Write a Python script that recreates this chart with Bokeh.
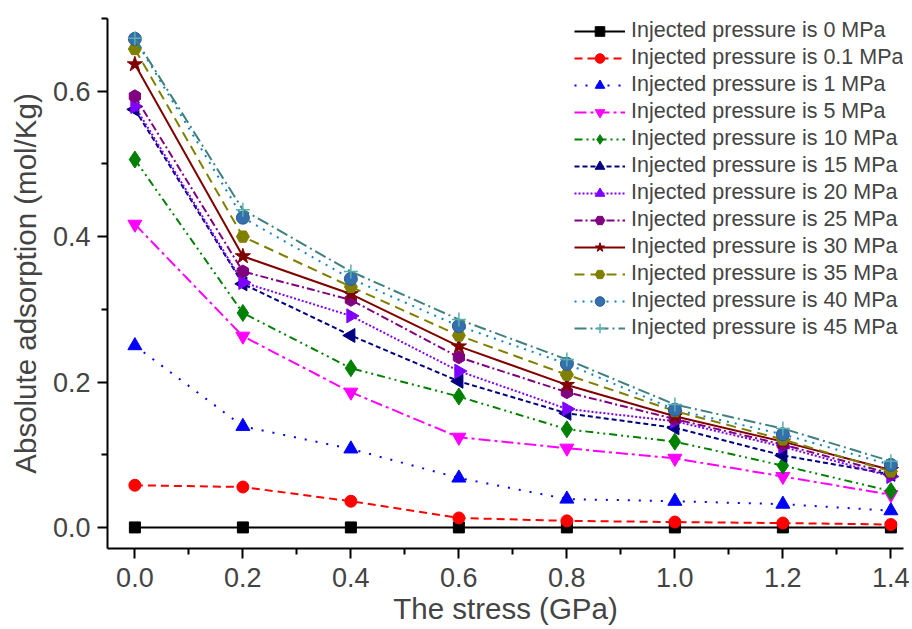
from bokeh.plotting import figure
from bokeh.models import FixedTicker, Range1d, Legend, LegendItem, NumeralTickFormatter
from bokeh.embed import file_html
from bokeh.resources import INLINE

# ---- data ----
stress = [0.0, 0.2, 0.4, 0.6, 0.8, 1.0, 1.2, 1.4]
p_0 = [0.0, 0.0, 0.0, 0.0, 0.0, 0.0, 0.0, 0.0]
p_01 = [0.058, 0.0556, 0.036, 0.013, 0.009, 0.0074, 0.006, 0.004]
p_1 = [0.250, 0.139, 0.108, 0.068, 0.039, 0.036, 0.032, 0.023]
p_5 = [0.417, 0.263, 0.186, 0.124, 0.109, 0.095, 0.070, 0.045]
p_10 = [0.506, 0.295, 0.219, 0.180, 0.135, 0.118, 0.085, 0.050]
p_15 = [0.575, 0.335, 0.264, 0.201, 0.157, 0.137, 0.099, 0.073]
p_20 = [0.579, 0.337, 0.291, 0.215, 0.163, 0.146, 0.111, 0.070]
p_25 = [0.593, 0.352, 0.313, 0.234, 0.186, 0.149, 0.114, 0.074]
p_30 = [0.637, 0.373, 0.321, 0.249, 0.196, 0.153, 0.118, 0.079]
p_35 = [0.658, 0.400, 0.331, 0.264, 0.210, 0.160, 0.121, 0.077]
p_40 = [0.672, 0.426, 0.342, 0.277, 0.225, 0.162, 0.128, 0.086]
p_45 = [0.673, 0.437, 0.352, 0.286, 0.231, 0.169, 0.136, 0.091]

labels = ["Injected pressure is 0 MPa", "Injected pressure is 0.1 MPa",
          "Injected pressure is 1 MPa", "Injected pressure is 5 MPa",
          "Injected pressure is 10 MPa", "Injected pressure is 15 MPa",
          "Injected pressure is 20 MPa", "Injected pressure is 25 MPa",
          "Injected pressure is 30 MPa", "Injected pressure is 35 MPa",
          "Injected pressure is 40 MPa", "Injected pressure is 45 MPa"]
values = [p_0, p_01, p_1, p_5, p_10, p_15, p_20, p_25, p_30, p_35, p_40, p_45]

x_ticks = [0.0, 0.2, 0.4, 0.6, 0.8, 1.0, 1.2, 1.4]
x_minor = [0.1, 0.3, 0.5, 0.7, 0.9, 1.1, 1.3]
y_ticks = [0.0, 0.2, 0.4, 0.6]
y_minor = [0.1, 0.3, 0.5, 0.7]

# ---- styles: (line color, dash, marker, size, fill, marker line color, angle) ----
styles = [
    ("#000000", "solid", "square", 11, "#000000", "#000000", 0),
    ("#FF0000", "8 5", "circle", 12, "#FF0000", "#FF0000", 0),
    ("#0000FF", "2 9", "triangle", 14, "#0000FF", "#0000FF", 0),
    ("#FF00FF", "12 4 3 4", "inverted_triangle", 14, "#FF00FF", "#FF00FF", 0),
    ("#008000", "8 4 2 4 2 4", "diamond", 17, "#008000", "#008000", 0),
    ("#000080", "5 3", "triangle", 14, "#000080", "#000080", 1.5708),
    ("#8000FF", "2 2", "triangle", 14, "#8000FF", "#8000FF", -1.5708),
    ("#800080", "8 3 2 3", "hex", 13, "#800080", "#800080", 1.5708),
    ("#800000", "solid", "star", 16, "#800000", "#800000", 0),
    ("#808000", "10 6", "hex", 13, "#808000", "#808000", 0),
    ("#0A84C8", "2 6", "circle", 13, "#3470AE", "#2A5A90", 0),
    ("#408080", "12 4 2 4", "cross", 14, "#5AAFAF", "#5AAFAF", 0),
]

FONT = "Liberation Sans"

p = figure(width=912, height=629, output_backend="svg", toolbar_location=None,
           x_range=Range1d(-0.0507, 1.4234), y_range=Range1d(-0.029, 0.7),
           min_border_left=107, min_border_right=9, min_border_top=18,
           min_border_bottom=81)
p.outline_line_color = None
p.xgrid.visible = False
p.ygrid.visible = False
p.background_fill_color = "white"
p.border_fill_color = "white"

items = []
for lab, vals, st in zip(labels, values, styles):
    color, dash, marker, size, fill, mline, ang = st
    r1 = p.line(stress, vals, line_color=color, line_width=2, line_dash=dash)
    r2 = p.scatter(stress, vals, marker=marker, size=size, angle=ang,
                   fill_color=fill, line_color=mline,
                   line_width=(1.5 if marker == "cross" else 1))
    items.append(LegendItem(label=lab, renderers=[r1, r2]))

legend = Legend(items=items, location=(467, 208), border_line_color=None,
                background_fill_alpha=0, padding=0, margin=0, spacing=2,
                glyph_width=51, glyph_height=24, label_height=24,
                label_standoff=6, label_text_font=FONT,
                label_text_font_size="21.5px")
p.add_layout(legend, "center")

for ax in (p.xaxis[0], p.yaxis[0]):
    ax.axis_line_width = 2
    ax.major_tick_line_width = 2
    ax.minor_tick_line_width = 2
    ax.major_tick_in = 0
    ax.minor_tick_in = 0
    ax.major_tick_out = 10
    ax.minor_tick_out = 6
    ax.major_label_text_font = FONT
    ax.major_label_text_font_size = "27px"
    ax.axis_label_text_font = FONT
    ax.axis_label_text_font_size = "29.5px"
    ax.axis_label_text_font_style = "normal"
    ax.formatter = NumeralTickFormatter(format="0.0")

p.xaxis[0].ticker = FixedTicker(ticks=x_ticks, minor_ticks=x_minor)
p.yaxis[0].ticker = FixedTicker(ticks=y_ticks, minor_ticks=y_minor)
p.xaxis[0].axis_label = "The stress (GPa)"
p.yaxis[0].axis_label = "Absolute adsorption (mol/Kg)"
p.xaxis[0].major_label_standoff = 9
p.xaxis[0].axis_label_standoff = 2
p.yaxis[0].major_label_standoff = 7
p.yaxis[0].axis_label_standoff = 8

open("out.html", "w").write(file_html(p, INLINE))
